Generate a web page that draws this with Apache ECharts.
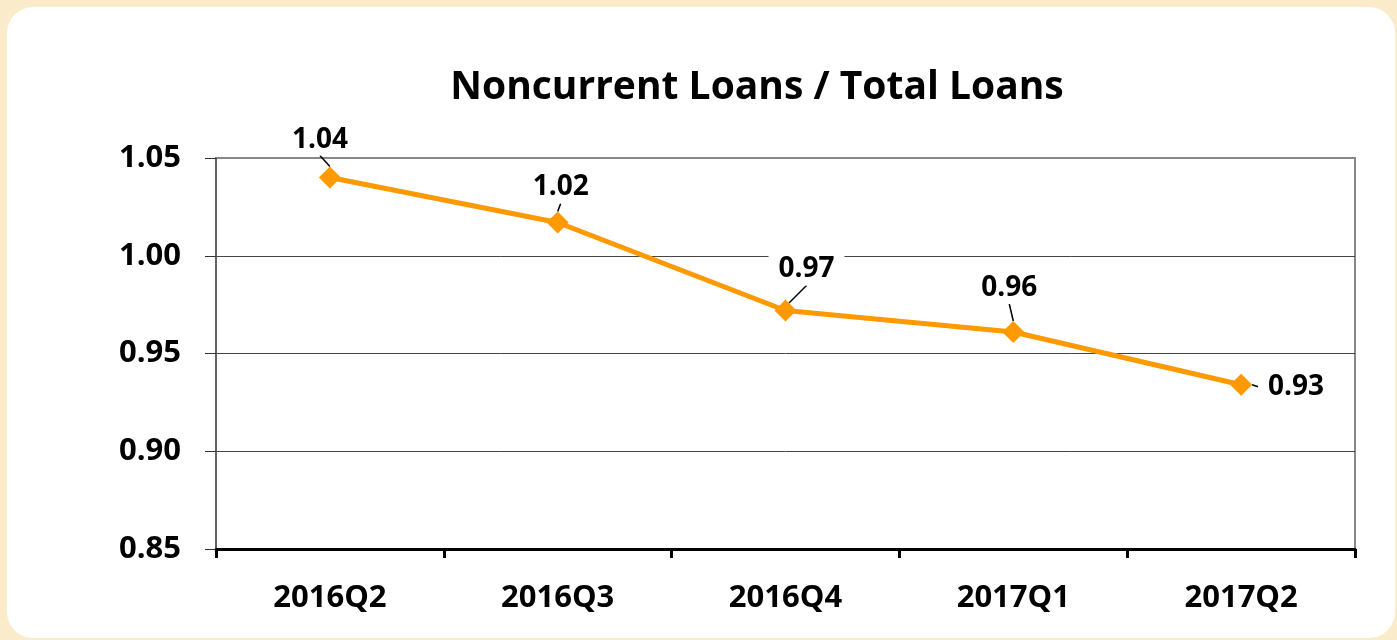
<!DOCTYPE html>
<html>
<head>
<meta charset="utf-8">
<script src="https://cdn.jsdelivr.net/npm/echarts@6/dist/echarts.min.js"></script>
<style>
  html, body { margin: 0; padding: 0; background: #FAEBCB; }
  #panel { position: absolute; left: 7px; top: 7px; width: 1388px; height: 631px; background: #fff; border-radius: 26px; }
  #chart { position: absolute; left: 0; top: 0; width: 1397px; height: 640px; }
</style>
</head>
<body>
<div id="panel"></div>
<div id="chart"></div>
<script>
// 数据
var quarters = ['2016Q2', '2016Q3', '2016Q4', '2017Q1', '2017Q2'];
var ratioValues = [1.040, 1.017, 0.972, 0.961, 0.934];
var yTicks = { min: 0.85, max: 1.05, step: 0.05 };

// 标签偏移（只是样式）
var labelShift = [[-10, -38], [3, -35], [21, -41], [-4, -44], [55, 2]];

var font = '"Open Sans", "Liberation Sans", sans-serif';
var chart = echarts.init(document.getElementById('chart'));

var option = {
    backgroundColor: 'transparent',
    title: {
        text: 'Noncurrent Loans / Total Loans',
        left: 752,
        textAlign: 'center',
        top: 63,
        textStyle: { fontFamily: font, fontWeight: 'bold', fontSize: 39, color: '#000' }
    },
    grid: {
        left: 216, right: 42, top: 158, bottom: 91,
        show: true, borderColor: '#888', borderWidth: 2, backgroundColor: 'transparent'
    },
    xAxis: {
        type: 'category',
        data: quarters,
        boundaryGap: true,
        axisLine: { lineStyle: { color: '#000', width: 3 } },
        axisTick: { show: true, alignWithLabel: false, length: 9, lineStyle: { color: '#000', width: 3 } },
        axisLabel: { fontFamily: font, fontWeight: 'bold', fontSize: 31, color: '#000', margin: 34 }
    },
    yAxis: {
        type: 'value',
        min: yTicks.min,
        max: yTicks.max,
        interval: yTicks.step,
        axisLine: { show: true, lineStyle: { color: '#555', width: 1.5 } },
        axisTick: { show: true, inside: false, length: 11, lineStyle: { color: '#333', width: 1 } },
        axisLabel: {
            fontFamily: font, fontWeight: 'bold', fontSize: 31, color: '#000', margin: 35,
            formatter: function (v) { return v.toFixed(2); }
        },
        splitLine: { show: true, lineStyle: { color: ['#888', '#444', '#444', '#444', '#888'], width: 1 } }
    },
    series: [{
        type: 'line',
        data: ratioValues,
        symbol: 'diamond',
        symbolSize: 22,
        lineStyle: { color: '#FF9900', width: 5 },
        itemStyle: { color: '#FF9900' },
        label: {
            show: true,
            position: 'inside',
            fontFamily: font,
            fontWeight: 'bold',
            fontSize: 28,
            color: '#000',
            backgroundColor: '#fff',
            padding: [2, 10],
            formatter: function (p) { return p.value.toFixed(2); }
        },
        labelLine: { show: true, lineStyle: { color: '#000', width: 1.5 } },
        labelLayout: function (params) {
            var s = labelShift[params.dataIndex];
            return { dx: s[0], dy: s[1] };
        },
        z: 5
    }]
};
chart.setOption(option);
</script>
</body>
</html>
